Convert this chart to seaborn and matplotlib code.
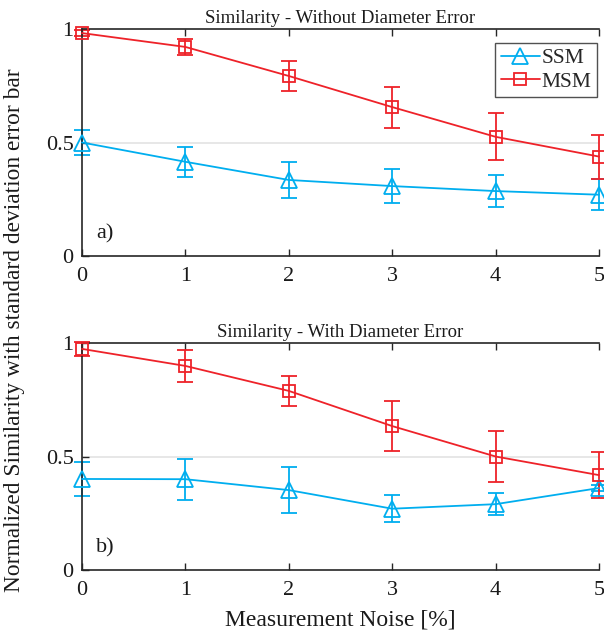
import matplotlib
matplotlib.use("Agg")
import matplotlib.pyplot as plt
import seaborn as sns
import pandas as pd

# Measurement noise levels [%]
noise = [0, 1, 2, 3, 4, 5]

# a) Without diameter error
ssm_a = [0.500, 0.415, 0.335, 0.308, 0.286, 0.270]
ssm_a_sd = [0.055, 0.066, 0.080, 0.075, 0.070, 0.068]
msm_a = [0.982, 0.921, 0.793, 0.656, 0.525, 0.438]
msm_a_sd = [0.012, 0.035, 0.064, 0.090, 0.104, 0.097]

# b) With diameter error
ssm_b = [0.401, 0.400, 0.352, 0.270, 0.290, 0.361]
ssm_b_sd = [0.073, 0.090, 0.100, 0.060, 0.048, 0.015]
msm_b = [0.974, 0.899, 0.789, 0.634, 0.500, 0.418]
msm_b_sd = [0.030, 0.070, 0.066, 0.110, 0.113, 0.100]

titles = ["Similarity - Without Diameter Error", "Similarity - With Diameter Error"]
panel_tags = ["a)", "b)"]
series_names = ["SSM", "MSM"]
yticks = [0, 0.5, 1]
yticklabels = ["0", "0.5", "1"]

colors = {"SSM": "#00aeef", "MSM": "#ee2229"}
markers = {"SSM": "^", "MSM": "s"}
msizes = {"SSM": 11, "MSM": 8}

sns.set_theme(style="white")
plt.rcParams["font.family"] = ["Liberation Serif", "DejaVu Serif"]

fig = plt.figure(figsize=(6.04, 6.36), dpi=100)
ax_top = fig.add_axes([82 / 604, 1 - 256 / 636, 517 / 604, 227 / 636])
ax_bot = fig.add_axes([82 / 604, 1 - 570 / 636, 517 / 604, 227 / 636])

panels = [
    (ax_top, {"SSM": (ssm_a, ssm_a_sd), "MSM": (msm_a, msm_a_sd)}),
    (ax_bot, {"SSM": (ssm_b, ssm_b_sd), "MSM": (msm_b, msm_b_sd)}),
]

for i, (ax, series) in enumerate(panels):
    ax.axhline(0.5, color="#e3e3e3", lw=1.2, zorder=0)
    for name in series_names:
        vals, sds = series[name]
        df = pd.DataFrame({"noise": noise, "sim": vals, "sd": sds})
        ax.errorbar(df["noise"], df["sim"], yerr=df["sd"], fmt="none",
                    ecolor=colors[name], elinewidth=1.3, capsize=6,
                    capthick=1.3, zorder=2, clip_on=False)
        sns.lineplot(data=df, x="noise", y="sim", color=colors[name],
                     marker=markers[name], markersize=msizes[name],
                     markerfacecolor="none", markeredgecolor=colors[name],
                     markeredgewidth=1.3, linewidth=1.3, label=name,
                     ax=ax, zorder=3, clip_on=False)

    ax.set_xlim(0, 5)
    ax.set_ylim(0, 1)
    ax.set_xticks(noise)
    ax.set_xticklabels([str(n) for n in noise])
    ax.set_yticks(yticks)
    ax.set_yticklabels(yticklabels)
    ax.set_xlabel("")
    ax.set_ylabel("")
    ax.tick_params(axis="both", direction="in", labelsize=16, length=5,
                   width=1.0, color="#262626", labelcolor="#1a1a1a",
                   top=True, bottom=True, left=True, right=False)
    ax.tick_params(axis="x", pad=8)
    ax.tick_params(axis="y", pad=6)
    for side in ["left", "bottom", "top"]:
        ax.spines[side].set_visible(True)
        ax.spines[side].set_color("#262626")
        ax.spines[side].set_linewidth(1.2)
    ax.spines["right"].set_visible(False)
    ax.set_title(titles[i], fontsize=13.5, pad=4, color="#1a1a1a")
    ax.text(0.027, 0.075, panel_tags[i], transform=ax.transAxes,
            fontsize=16, color="#1a1a1a")
    ax.set_facecolor("white")
    if i == 0:
        leg = ax.legend(loc="upper right", bbox_to_anchor=(1 - 2 / 517, 1 - 14 / 227),
                        fontsize=15.5, frameon=True, fancybox=False,
                        edgecolor="#262626", handlelength=1.8, borderpad=0.25,
                        labelspacing=0.15, handletextpad=0.1, borderaxespad=0)
        leg.get_frame().set_linewidth(1.0)
    else:
        lg = ax.get_legend()
        if lg is not None:
            lg.remove()

fig.text(340 / 604, 1 - 620 / 636, "Measurement Noise [%]", ha="center",
         va="center", fontsize=17, color="#1a1a1a")
fig.text(15 / 604, 1 - 330 / 636,
         "Normalized Similarity with standard deviation error bar",
         ha="center", va="center", rotation=90, fontsize=16.8, color="#1a1a1a")

fig.savefig("out.png", dpi=100, facecolor="white")
